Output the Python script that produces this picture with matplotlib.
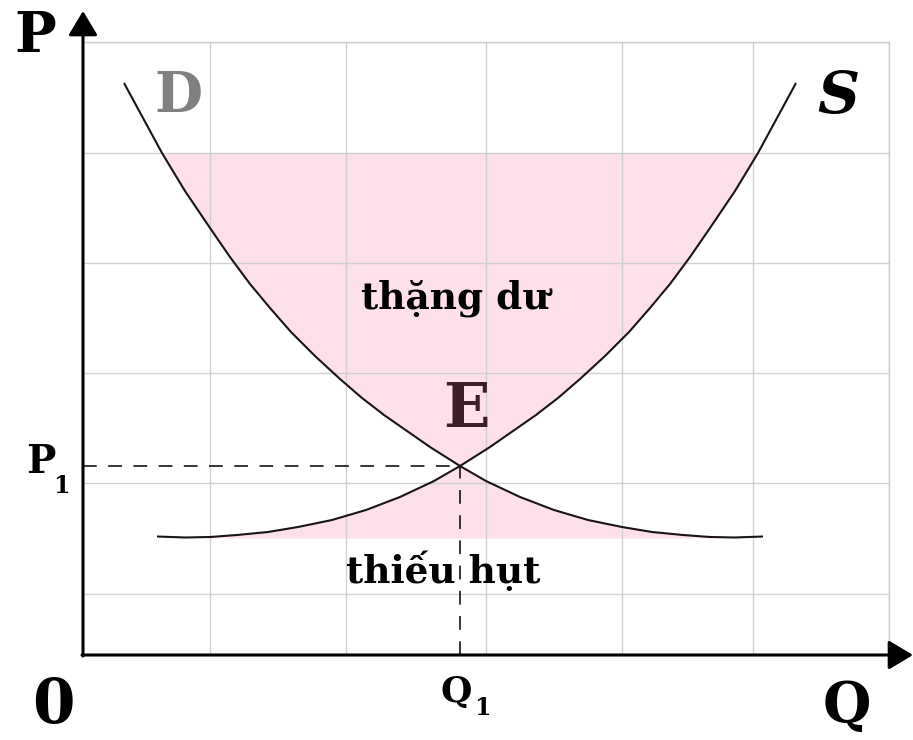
import matplotlib
matplotlib.use("Agg")
import matplotlib.pyplot as plt
import numpy as np

# ---- data (units: pixel-like quantities measured from the origin) ----
demand_q = [41, 60, 79, 102, 127, 147, 167, 187, 208, 232, 257, 279, 301, 324, 347,
            377, 403, 437, 471, 505, 539, 569, 600, 627, 652, 680]
demand_p = [572, 537, 502, 464, 427, 398, 371, 347, 323, 299, 276, 257, 240, 224, 208,
            189, 174, 158, 145, 135, 128, 123, 120, 118, 117.5, 118.5]
supply_q = [74, 102, 127, 154, 185, 215, 249, 283, 317, 351, 377, 407, 430, 453, 475,
            497, 522, 546, 567, 587, 607, 627, 652, 675, 694, 713]
supply_p = [118.5, 117.5, 118, 120, 123, 128, 135, 145, 158, 174, 189, 208, 224, 240, 257,
            276, 299, 323, 347, 371, 398, 427, 464, 502, 537, 572]

q1, p1 = 377, 189          # equilibrium E
surplus_price = 502        # upper price level (thặng dư)
shortage_price = 117       # lower price level (thiếu hụt)

grid_q = [127, 263, 403, 539, 670, 806]
grid_p = [61, 172, 282, 392, 502, 613]

# ---- figure ----
fig = plt.figure(figsize=(9.13, 7.40), dpi=100)
W, H = 913, 740
ox, oy = 83, 655
ax = fig.add_axes([ox / W, (H - oy) / H, (889 - ox) / W, (oy - 42) / H])
ax.set_xlim(0, 806)
ax.set_ylim(0, 613)

pink = "#fde0e8"
grid_c = "#cccccc"

dq = np.array(demand_q); dp = np.array(demand_p)
sq = np.array(supply_q); sp = np.array(supply_p)
iE_d = demand_q.index(q1); iE_s = supply_q.index(q1)
i_top_d = demand_p.index(surplus_price); i_top_s = supply_p.index(surplus_price)

# upper region (thặng dư)
up_q = np.concatenate([dq[i_top_d:iE_d + 1], sq[iE_s + 1:i_top_s + 1]])
up_p = np.concatenate([dp[i_top_d:iE_d + 1], sp[iE_s + 1:i_top_s + 1]])
ax.fill_between(up_q, up_p, surplus_price, color=pink, lw=0, zorder=1)

# lower region (thiếu hụt)
lo_q = np.concatenate([sq[2:iE_s + 1], dq[iE_d + 1:24]])
lo_p = np.concatenate([sp[2:iE_s + 1], dp[iE_d + 1:24]])
ax.fill_between(lo_q, shortage_price, lo_p, color=pink, lw=0, zorder=1)

# grid
ax.set_xticks(grid_q)
ax.set_yticks(grid_p)
ax.grid(True, color=grid_c, lw=1.0, alpha=0.9, zorder=2)
ax.set_axisbelow(False)
ax.tick_params(length=0, labelbottom=False, labelleft=False)
for s in ("top", "right"):
    ax.spines[s].set_color(grid_c)
    ax.spines[s].set_linewidth(1.0)
for s in ("left", "bottom"):
    ax.spines[s].set_visible(False)

# curves
ax.plot(demand_q, demand_p, color="#1a1414", lw=1.5, zorder=4,
        solid_capstyle="butt", solid_joinstyle="round")
ax.plot(supply_q, supply_p, color="#1a1414", lw=1.5, zorder=4,
        solid_capstyle="butt", solid_joinstyle="round")

# dashed guides
ax.plot([0, q1], [p1, p1], color="black", lw=1.1, ls=(0, (9, 7.5)), zorder=3)
ax.plot([q1, q1], [0, p1], color="black", lw=1.1, ls=(0, (9, 7.5)), zorder=3)

# axes with arrows
arrow_kw = dict(arrowstyle="-|>,head_length=0.75,head_width=0.45", color="black",
                lw=2.2, mutation_scale=20, shrinkA=0, shrinkB=0)
ax.annotate("", xy=(0, 644), xytext=(0, -1), annotation_clip=False,
            arrowprops=arrow_kw, zorder=6)
ax.annotate("", xy=(830, 0), xytext=(-1, 0), annotation_clip=False,
            arrowprops=arrow_kw, zorder=6)

# labels
fam = ["DejaVu Serif"]
def txt(x, y, s, size, color="black", style="normal"):
    ax.text(x, y, s, fontsize=size, color=color, fontweight="bold", style=style,
            family=fam, ha="center", va="center", clip_on=False, zorder=7)

txt(-48, 618, "P", 40)
txt(-30, -51, "0", 44)
txt(764, -52, "Q", 40)
txt(95, 558, "D", 40, color="#808080")
txt(755, 558, "S", 42, style="italic")
txt(383, 245, "E", 44, color="#3b1e2a")
txt(372, 357, "thặng dư", 27)
txt(360, 84, "thiếu hụt", 27)
txt(-42, 193, "P", 28)
txt(-22, 169, "1", 17)
txt(373, -37, "Q", 26)
txt(399, -53, "1", 17)

fig.savefig("out.png", dpi=100)
